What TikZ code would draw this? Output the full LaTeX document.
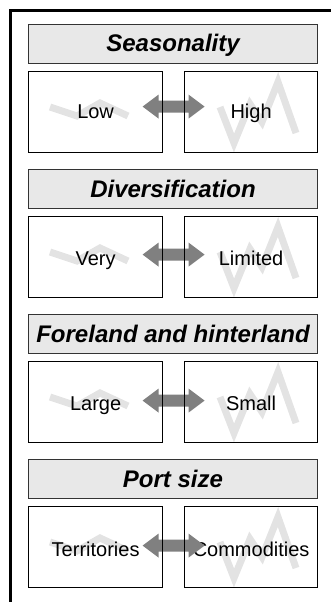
\documentclass[tikz,border=0pt]{standalone}
\usepackage{fontspec}
\setmainfont{Liberation Sans}
\usetikzlibrary{calc}
\pgfdeclarelayer{zig}
\pgfdeclarelayer{txt}
\pgfdeclarelayer{arr}
\pgfsetlayers{zig,txt,arr,main}
\tikzset{
  hdr/.style={draw=black!80, line width=1pt, fill=black!9, minimum width=289pt,
    minimum height=39pt, anchor=north west, inner sep=0pt, text height=18pt, text depth=2pt,
    font=\fontsize{24}{24}\selectfont\bfseries\itshape},
  cell/.style={draw=black, line width=1.2pt, minimum width=134pt, minimum height=81pt,
    anchor=north west, inner sep=0pt},
  celltext/.style={font=\fontsize{20}{20}\selectfont, inner sep=0pt, anchor=base},
  zigline/.style={draw=black!11, line width=7pt},
  fatarrow/.style={fill=black!50},
  frameline/.style={line width=2.5pt}
}
\begin{document}
\begin{tikzpicture}[x=1pt,y=-1pt]
\useasboundingbox (0,0) rectangle (331,602);
\coordinate (fa) at (10.5,602);
\coordinate (fb) at (10.5,10.5);
\coordinate (fc) at (331,10.5);
\draw[frameline] (fa) -- (fb) -- (fc);
\foreach \i/\t/\title/\a/\b/\ao/\tb in {
  1/24/Seasonality/Low/High/5.5/47.5,
  2/169/Diversification/Very/Limited/2.5/49,
  3/314/Foreland and hinterland/Large/Small/1.5/49.5,
  4/459/Port size/Territories/Commodities/1.5/50}{
  \node[hdr] (h\i) at (28,\t) {\title};
  \node[cell] (l\i) at (28,\t+47) {};
  \node[cell, minimum width=133pt] (r\i) at (184,\t+47) {};
  \begin{pgfonlayer}{zig}
    \begin{scope}[shift={(l\i.north west)}]
      \draw[zigline] (22,36) -- (49,45) -- (72,32) -- (100,45);
    \end{scope}
    \begin{scope}[shift={(r\i.north west)}]
      \draw[zigline] (36,36) -- (50,72) -- (66,33) -- (78,51) -- (94,11) -- (112,62);
    \end{scope}
  \end{pgfonlayer}
  \begin{pgfonlayer}{txt}
    \node[celltext] (lt\i) at ($(l\i.north)+(0,\tb)$) {\a};
    \node[celltext] (rt\i) at ($(r\i.north)+(0,\tb)$) {\b};
  \end{pgfonlayer}
  \begin{pgfonlayer}{arr}
    \coordinate (m\i) at ($(l\i.east)!0.5!(r\i.west)+(0,-\ao)$);
    \fill[fatarrow] ($(m\i)+(-31,0)$) -- ++(16,-12) -- ++(0,6) -- ++(30,0) -- ++(0,-6)
      -- ++(16,12) -- ++(-16,12) -- ++(0,-6) -- ++(-30,0) -- ++(0,6) -- cycle;
  \end{pgfonlayer}
}
\end{tikzpicture}
\end{document}
